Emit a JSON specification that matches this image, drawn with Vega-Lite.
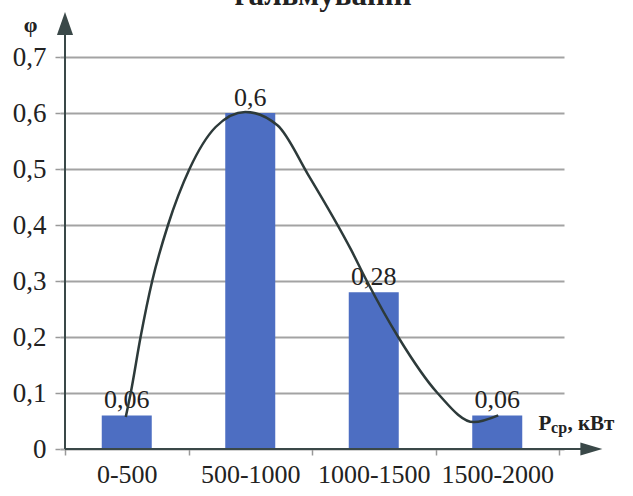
{
  "$schema": "https://vega.github.io/schema/vega-lite/v6.json",
  "width": 504,
  "height": 392,
  "autosize": {"type": "none"},
  "padding": {"left": 60, "top": 57, "right": 69, "bottom": 47},
  "background": "white",
  "config": {"view": {"stroke": null}, "font": "Liberation Serif"},
  "datasets": {
    "bars": [
      {"interval": "0-500", "mid": 250, "phi": 0.06, "label": "0,06"},
      {"interval": "500-1000", "mid": 750, "phi": 0.6, "label": "0,6"},
      {"interval": "1000-1500", "mid": 1250, "phi": 0.28, "label": "0,28"},
      {"interval": "1500-2000", "mid": 1750, "phi": 0.06, "label": "0,06"}
    ],
    "curve": [
      {"p": 246, "phi": 0.057},
      {"p": 266, "phi": 0.1},
      {"p": 306, "phi": 0.2},
      {"p": 353, "phi": 0.3},
      {"p": 417, "phi": 0.4},
      {"p": 504, "phi": 0.5},
      {"p": 610, "phi": 0.575},
      {"p": 730, "phi": 0.602},
      {"p": 860, "phi": 0.578},
      {"p": 984, "phi": 0.49},
      {"p": 1159, "phi": 0.355},
      {"p": 1222, "phi": 0.3},
      {"p": 1349, "phi": 0.2},
      {"p": 1508, "phi": 0.1},
      {"p": 1655, "phi": 0.048},
      {"p": 1754, "phi": 0.06}
    ],
    "one": [{}]
  },
  "layer": [
    {
      "data": {"name": "bars"},
      "mark": {"type": "bar", "size": 50, "color": "#4d6ec2"},
      "encoding": {
        "x": {
          "field": "mid", "type": "quantitative",
          "scale": {"domain": [0, 2000], "nice": false, "zero": false},
          "axis": {
            "values": [0, 250, 500, 750, 1000, 1250, 1500, 1750, 2000],
            "labelExpr": "datum.value == 250 ? '0-500' : datum.value == 750 ? '500-1000' : datum.value == 1250 ? '1000-1500' : datum.value == 1750 ? '1500-2000' : ''",
            "tickOpacity": {"condition": {"test": "datum.value % 500 === 0", "value": 1}, "value": 0},
            "tickColor": "#999999", "tickSize": 6, "tickWidth": 1.5,
            "grid": false, "domain": false,
            "labelFont": "Liberation Serif", "labelFontSize": 26, "labelColor": "#222222", "labelPadding": 6,
            "labelFlush": false, "labelOverlap": false,
            "title": null
          }
        },
        "y": {
          "field": "phi", "type": "quantitative",
          "scale": {"domain": [0, 0.7], "nice": false},
          "axis": {
            "values": [0, 0.1, 0.2, 0.3, 0.4, 0.5, 0.6, 0.7],
            "labelExpr": "replace(format(datum.value, '.1~f'), '.', ',')",
            "grid": true, "gridColor": "#a3a3a3", "gridWidth": 2,
            "domain": false, "tickColor": "#999999", "tickSize": 5, "tickWidth": 1.5,
            "labelFont": "Liberation Serif", "labelFontSize": 27, "labelColor": "#222222", "labelPadding": 9,
            "title": "φ", "titleFont": "Liberation Serif", "titleFontSize": 22, "titleFontWeight": "bold", "titleColor": "#222222",
            "titleAngle": 0, "titleX": -30, "titleY": -33, "titleAlign": "center", "titleBaseline": "middle"
          }
        }
      }
    },
    {
      "data": {"name": "bars"},
      "mark": {"type": "text", "baseline": "bottom", "dy": -2, "font": "Liberation Serif", "fontSize": 26, "color": "#222222"},
      "encoding": {
        "x": {"field": "mid", "type": "quantitative"},
        "y": {"field": "phi", "type": "quantitative"},
        "text": {"field": "label"}
      }
    },
    {
      "data": {"name": "curve"},
      "mark": {"type": "line", "interpolate": "monotone", "color": "#2d3a3a", "strokeWidth": 2.5},
      "encoding": {
        "x": {"field": "p", "type": "quantitative"},
        "y": {"field": "phi", "type": "quantitative"}
      }
    },
    {
      "data": {"name": "one"},
      "mark": {"type": "rule", "color": "#3a4848", "strokeWidth": 2, "clip": false},
      "encoding": {"x": {"datum": 0}, "y": {"datum": 0}, "x2": {"datum": 2110}}
    },
    {
      "data": {"name": "one"},
      "mark": {"type": "rule", "color": "#3a4848", "strokeWidth": 2, "clip": false},
      "encoding": {"x": {"datum": 0}, "y": {"datum": 0}, "y2": {"datum": 0.74}}
    },
    {
      "data": {"name": "one"},
      "mark": {"type": "point", "shape": "M0,-1L0.7,1L-0.7,1Z", "filled": true, "size": 529, "color": "#3a4848", "opacity": 1, "clip": false},
      "encoding": {"x": {"datum": 0}, "y": {"datum": 0.76}}
    },
    {
      "data": {"name": "one"},
      "mark": {"type": "point", "shape": "M1,0L-1,0.6L-1,-0.6Z", "filled": true, "size": 484, "color": "#3a4848", "opacity": 1, "clip": false},
      "encoding": {"x": {"datum": 2131}, "y": {"datum": 0}}
    },
    {
      "data": {"name": "one"},
      "mark": {"type": "text", "text": "P", "align": "left", "baseline": "alphabetic", "dy": -19, "font": "Liberation Serif", "fontSize": 21, "fontWeight": "bold", "color": "#222222", "clip": false},
      "encoding": {"x": {"datum": 1917}, "y": {"datum": 0}}
    },
    {
      "data": {"name": "one"},
      "mark": {"type": "text", "text": "ср", "align": "left", "baseline": "alphabetic", "dy": -16, "font": "Liberation Serif", "fontSize": 16, "fontWeight": "bold", "color": "#222222", "clip": false},
      "encoding": {"x": {"datum": 1968}, "y": {"datum": 0}}
    },
    {
      "data": {"name": "one"},
      "mark": {"type": "text", "text": ", кВт", "align": "left", "baseline": "alphabetic", "dy": -19, "font": "Liberation Serif", "fontSize": 21, "fontWeight": "bold", "color": "#222222", "clip": false},
      "encoding": {"x": {"datum": 2034}, "y": {"datum": 0}}
    },
    {
      "data": {"name": "one"},
      "mark": {"type": "text", "text": "гальмуванні", "align": "center", "baseline": "alphabetic", "dy": -52, "font": "Liberation Serif", "fontSize": 31, "fontWeight": "bold", "color": "#222222", "clip": false},
      "encoding": {"x": {"datum": 1044}, "y": {"datum": 0.7}}
    }
  ]
}
